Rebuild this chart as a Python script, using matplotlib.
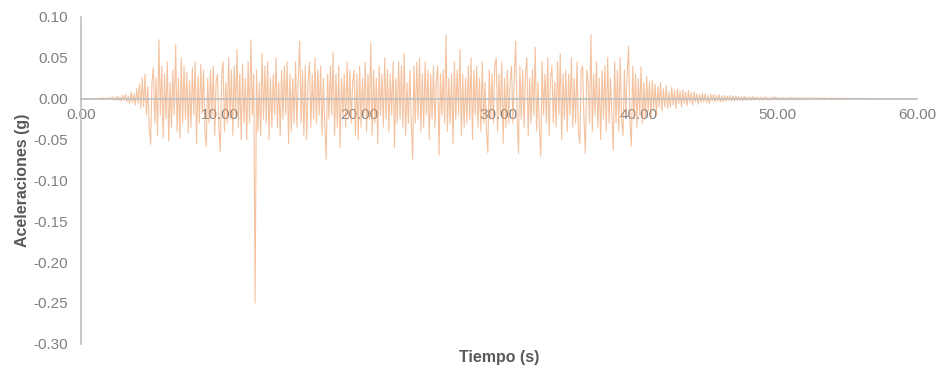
import numpy as np
import matplotlib.pyplot as plt

plt.rcParams['font.family'] = ['Liberation Sans', 'DejaVu Sans']

# registro de aceleraciones (g), muestreado cada 0.1 s; una fila = 1 s
dt = 0.1
acc = [
    0, 0, 0, 0, 0, 0, 0, 0, 0, 0,
    0, 0, 0, 0, 0.001, -0.001, 0.001, 0, -0.001, 0.001,
    -0.001, 0.002, -0.001, 0.002, -0.002, 0.001, 0.003, -0.002, 0.002, -0.003,
    0.004, -0.002, 0.005, -0.004, 0.003, -0.006, 0.008, -0.005, 0.006, -0.008,
    0.012, -0.006, 0.018, -0.012, 0.025, -0.01, 0.03, -0.02, 0.015, -0.035,
    -0.056, 0.02, 0.038, -0.03, 0.025, -0.045, 0.072, -0.02, 0.04, -0.048,
    0.03, -0.025, 0.045, -0.052, 0.02, -0.035, 0.035, -0.02, 0.066, -0.04,
    0.025, -0.048, 0.05, -0.03, 0.04, -0.025, 0.032, -0.042, 0.022, -0.035,
    0.038, -0.02, 0.045, -0.055, 0.028, -0.03, 0.042, -0.018, 0.035, -0.04,
    -0.058, 0.025, -0.03, 0.035, -0.022, 0.04, -0.045, 0.02, 0.03, -0.035,
    # 10 s
    -0.065, 0.03, 0.045, -0.04, 0.02, -0.03, 0.05, -0.025, 0.035, -0.045,
    0.04, -0.02, 0.06, -0.035, 0.03, -0.05, 0.042, -0.03, 0.025, -0.05,
    0.045, -0.03, 0.072, -0.02, 0.03, -0.25, 0.035, -0.04, 0.02, -0.045,
    0.055, -0.025, 0.04, -0.03, 0.045, -0.05, 0.025, -0.035, 0.03, -0.02,
    0.05, -0.035, 0.02, -0.045, 0.035, -0.025, 0.04, -0.02, 0.045, -0.055,
    0.03, -0.04, 0.025, -0.03, 0.045, -0.035, 0.028, 0.07, -0.03, 0.035,
    -0.045, 0.04, -0.05, 0.02, 0.045, -0.035, 0.03, -0.025, 0.05, -0.03,
    0.035, -0.02, 0.04, -0.045, 0.025, -0.03, -0.074, 0.03, -0.025, 0.04,
    -0.02, 0.057, -0.045, 0.03, -0.035, 0.04, -0.06, 0.025, -0.02, 0.03,
    -0.035, 0.045, -0.025, 0.035, -0.03, 0.02, 0.035, -0.045, 0.03, -0.05,
    # 20 s
    0.04, -0.035, 0.025, -0.02, 0.045, -0.04, 0.03, -0.025, 0.068, -0.045,
    0.035, -0.03, 0.025, -0.055, 0.04, -0.02, 0.03, -0.035, 0.05, -0.025,
    0.035, -0.04, 0.03, -0.02, 0.045, -0.06, 0.025, -0.03, 0.045, -0.025,
    0.04, -0.035, 0.055, -0.045, 0.02, -0.03, 0.035, -0.025, -0.074, 0.04,
    -0.03, 0.045, -0.025, 0.05, -0.04, 0.03, -0.035, 0.045, -0.02, 0.035,
    -0.05, 0.03, -0.025, 0.04, -0.035, 0.02, 0.04, -0.069, 0.03, -0.02,
    0.035, -0.03, 0.078, -0.04, 0.025, -0.03, 0.03, -0.055, 0.045, -0.025,
    0.035, -0.02, 0.06, -0.045, 0.03, -0.035, 0.025, -0.03, 0.04, -0.025,
    0.05, -0.05, 0.035, -0.02, 0.04, -0.035, 0.025, -0.04, 0.045, -0.03,
    0.02, -0.04, -0.066, 0.035, -0.025, 0.03, -0.03, 0.04, 0.05, -0.04,
    # 30 s
    0.03, -0.02, 0.045, -0.055, 0.025, -0.035, 0.035, -0.03, 0.02, 0.04,
    -0.03, 0.025, 0.07, -0.02, -0.067, 0.04, -0.025, 0.035, -0.035, 0.03,
    0.05, -0.045, 0.025, -0.03, 0.035, -0.02, 0.063, -0.04, 0.02, -0.035,
    -0.071, 0.045, -0.02, 0.03, -0.03, 0.05, -0.045, 0.025, 0.04, -0.03,
    0.02, -0.035, 0.045, -0.02, 0.055, -0.05, 0.03, -0.025, 0.035, -0.04,
    0.03, -0.02, 0.05, -0.035, 0.025, -0.03, 0.045, -0.04, -0.055, 0.035,
    0.04, -0.025, -0.067, 0.035, 0.02, -0.03, 0.078, -0.04, 0.03, -0.02,
    0.045, -0.035, 0.025, -0.05, 0.035, -0.025, 0.04, -0.04, 0.05, -0.03,
    0.025, -0.02, -0.063, 0.045, -0.03, 0.035, -0.04, 0.05, -0.025, -0.045,
    0.035, -0.02, 0.03, 0.064, -0.03, -0.058, 0.04, -0.025, 0.03, -0.035,
    # 40 s
    0.025, -0.02, 0.039, -0.03, 0.02, -0.025, 0.027, -0.015, 0.02, -0.025,
    0.022, -0.012, 0.018, -0.02, 0.015, -0.01, 0.02, -0.015, 0.012, -0.01,
    0.016, -0.012, 0.008, -0.01, 0.014, -0.008, 0.01, -0.012, 0.012, -0.006,
    0.009, -0.01, 0.011, -0.006, 0.008, -0.009, 0.01, -0.005, 0.007, -0.008,
    0.008, -0.004, 0.006, -0.007, 0.005, -0.005, 0.007, -0.004, 0.006, -0.005,
    0.004, -0.006, 0.005, -0.003, 0.005, -0.004, 0.004, -0.003, 0.005, -0.004,
    0.003, -0.004, 0.004, -0.003, 0.003, -0.002, 0.004, -0.003, 0.003, -0.003,
    0.003, -0.002, 0.003, -0.002, 0.002, -0.003, 0.003, -0.002, 0.002, -0.002,
    0.002, -0.002, 0.003, -0.002, 0.002, -0.001, 0.002, -0.002, 0.002, -0.002,
    0.002, -0.001, 0.002, -0.002, 0.001, -0.002, 0.002, -0.001, 0.002, -0.001,
    # 50 s
    0.0015, -0.0015, 0.001, -0.0015, 0.0015, -0.001, 0.001, -0.0015, 0.0015, -0.001,
    0.0015, -0.001, 0.0015, -0.0015, 0.001, -0.001, 0.0015, -0.001, 0.001, -0.0015,
    0.001, -0.0015, 0.001, -0.001, 0.0015, -0.001, 0.001, -0.001, 0.001, -0.0015,
    0.001, -0.001, 0.001, -0.0005, 0.001, -0.001, 0.0005, -0.001, 0.001, -0.0005,
    0.001, -0.0005, 0.0005, -0.001, 0.0005, -0.0005, 0.001, -0.0005, 0.0005, -0.0005,
    0.0005, -0.0005, 0.0005, 0, 0.0005, -0.0005, 0, 0.0005, 0, -0.0005,
    0.0005, 0, -0.0005, 0, 0.0005, 0, 0, -0.0005, 0, 0,
    0, 0, 0, 0, 0, 0, 0, 0, 0, 0,
    0, 0, 0, 0, 0, 0, 0, 0, 0, 0,
    0, 0, 0, 0, 0, 0, 0, 0, 0, 0,
    0,
]
t = np.arange(len(acc)) * dt

xticks = [0, 10, 20, 30, 40, 50, 60]
yticks = [-0.30, -0.25, -0.20, -0.15, -0.10, -0.05, 0.00, 0.05, 0.10]

fig = plt.figure(figsize=(9.41, 3.75), dpi=100)
ax = fig.add_axes([0.086, 0.083, 0.8885, 0.872])

ax.plot(t, acc, color='#EE9A60', alpha=0.6, lw=0.8)

ax.set_xlim(0, 60)
ax.set_ylim(-0.30, 0.10)
ax.set_xticks(xticks)
ax.set_xticklabels([f'{v:.2f}' for v in xticks])
ax.set_yticks(yticks)
ax.set_yticklabels([f'{v:.2f}' for v in yticks])

for s in ['top', 'right']:
    ax.spines[s].set_visible(False)
ax.spines['bottom'].set_position(('data', 0))
for s in ['bottom', 'left']:
    ax.spines[s].set_color('#BFBFBF')
    ax.spines[s].set_linewidth(1.2)

ax.tick_params(axis='both', length=0, labelsize=11, labelcolor='#808080')
ax.tick_params(axis='x', pad=7)
ax.tick_params(axis='y', pad=9)

ax.set_ylabel('Aceleraciones (g)', fontsize=11.5, fontweight='bold', color='#595959', labelpad=3)
fig.text(0.53, 0.047, 'Tiempo (s)', ha='center', va='center',
         fontsize=11.5, fontweight='bold', color='#595959')

fig.savefig('out.png', dpi=100)
